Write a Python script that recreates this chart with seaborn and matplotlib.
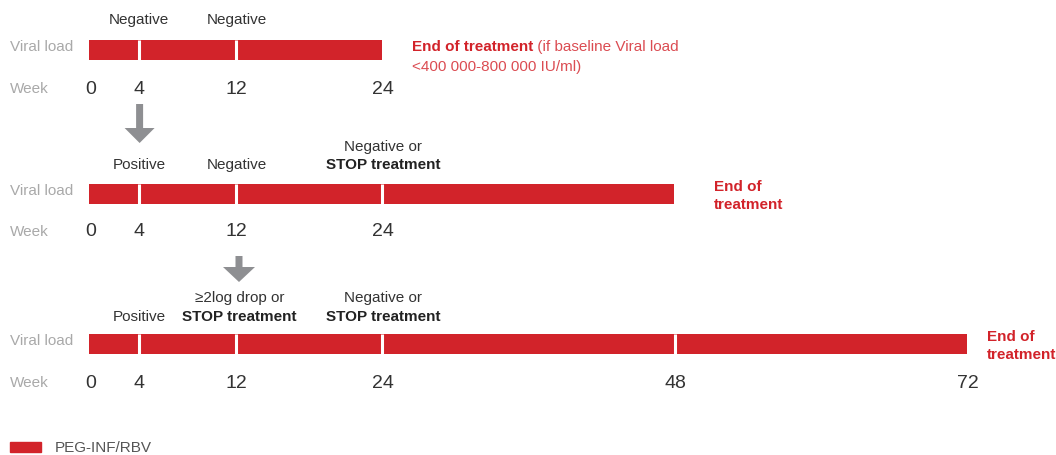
import matplotlib
matplotlib.use("Agg")
import matplotlib.pyplot as plt
import seaborn as sns
from matplotlib.patches import FancyArrow, Patch

sns.set_theme(style="white")
plt.rcParams['font.family'] = ['Liberation Sans', 'DejaVu Sans']

RED = "#D2232A"
GREY_LABEL = "#A9A9A9"
DARK = "#333333"
FS = 11

# ---- data ----
regimen_ends = [24, 48, 72]                       # treatment duration (weeks) per scenario
milestones = [[4, 12], [4, 12, 24], [4, 12, 24, 48]]  # white separators
week_ticks = [[0, 4, 12, 24], [0, 4, 12, 24], [0, 4, 12, 24, 48, 72]]
status_labels = [
    [(4, "Negative", ""), (12, "Negative", "")],
    [(4, "Positive", ""), (12, "Negative", ""), (24, "Negative or", "STOP treatment")],
    [(4, "Positive", ""), (12, "≥2log drop or", "STOP treatment"), (24, "Negative or", "STOP treatment")],
]
legend_label = "PEG-INF/RBV"

# ---- layout (y in pixels from top) ----
bar_y = [50, 194, 344]
week_y = [89, 232, 383]
px_per_week = (967 - 89) / 72.0

fig = plt.figure(figsize=(10.56, 4.55), dpi=100)
ax = fig.add_axes([0, 0, 1, 1])
ax.set_xlim(-89 / px_per_week, (1056 - 89) / px_per_week)
ax.set_ylim(455, 0)
ax.axis("off")

for i, end in enumerate(regimen_ends):
    ax.barh(bar_y[i], end, left=0, height=20, color=RED, linewidth=0)
    for m in milestones[i]:
        ax.vlines(m + 0.06, bar_y[i] - 10.5, bar_y[i] + 10.5, color="white", linewidth=2.2)
    ax.text(-79 / px_per_week, bar_y[i] - 3, "Viral load", fontsize=FS, color=GREY_LABEL,
            ha="left", va="center")
    ax.text(-79 / px_per_week, week_y[i], "Week", fontsize=FS, color=GREY_LABEL,
            ha="left", va="center")
    for w in week_ticks[i]:
        ax.text(w + 0.1, week_y[i], str(w), fontsize=14, color=DARK, ha="center", va="center")

# status labels above bars
top_line_y = [20, 147, 298]
bottom_line_y = [20, 165, 317]
for i, labs in enumerate(status_labels):
    for w, l1, l2 in labs:
        xoff = 0.1 if w != 12 or i != 2 else 0.35
        if l2:
            ax.text(w + xoff, top_line_y[i], l1, fontsize=FS, color=DARK, ha="center", va="center")
            ax.text(w + xoff, bottom_line_y[i], l2, fontsize=FS, color="#222222", ha="center",
                    va="center", fontweight="bold")
        else:
            ax.text(w + xoff, bottom_line_y[i], l1, fontsize=FS, color=DARK, ha="center", va="center")

# End of treatment annotations
x1 = (412 - 89) / px_per_week
t = ax.text(x1, 47, "End of treatment", fontsize=FS, color=RED, fontweight="bold",
            ha="left", va="center")
fig.canvas.draw()
bb = t.get_window_extent()
xr = ax.transData.inverted().transform((bb.x1, 0))[0]
ax.text(xr, 47, " (if baseline Viral load", fontsize=FS, color="#DB4C52", ha="left", va="center")
ax.text(x1, 67, "<400 000-800 000 IU/ml)", fontsize=FS, color="#DB4C52", ha="left", va="center")
ax.text((714 - 89) / px_per_week, 196, "End of\ntreatment", fontsize=FS, color=RED,
        fontweight="bold", ha="left", va="center", linespacing=1.3)
ax.text((987 - 89) / px_per_week, 346, "End of\ntreatment", fontsize=FS, color=RED,
        fontweight="bold", ha="left", va="center", linespacing=1.3)

# arrows
ARROW = "#8E8F92"
ax.add_patch(FancyArrow(4.15, 104, 0, 39, width=7 / px_per_week, head_width=30 / px_per_week,
                        head_length=15, length_includes_head=True, color=ARROW, linewidth=0))
ax.add_patch(FancyArrow(12.3, 256, 0, 26, width=7 / px_per_week, head_width=32 / px_per_week,
                        head_length=15, length_includes_head=True, color=ARROW, linewidth=0))

# legend
leg = fig.legend(handles=[Patch(color=RED, label=legend_label)], loc="lower left",
                 bbox_to_anchor=(10 / 1056, 0 / 455), frameon=False, fontsize=FS,
                 handlelength=2.05, handleheight=0.65, handletextpad=0.9,
                 borderaxespad=0, borderpad=0)
for txt in leg.get_texts():
    txt.set_color("#555555")

fig.savefig("out.png", dpi=100)
